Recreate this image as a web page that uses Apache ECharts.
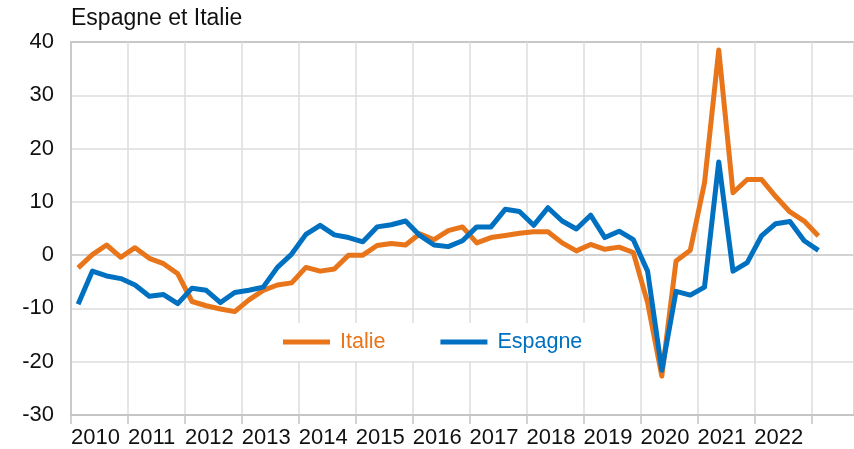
<!DOCTYPE html>
<html>
<head>
<meta charset="utf-8">
<script src="https://cdn.jsdelivr.net/npm/echarts@6/dist/echarts.min.js"></script>
<style>
  html, body { margin: 0; padding: 0; background: #fff; }
  #chart { width: 854px; height: 449px; }
</style>
</head>
<body>
<div id="chart"></div>
<script>
// Tick labels (years) for x axis
const yearLabels = ['2010','2011','2012','2013','2014','2015','2016','2017','2018','2019','2020','2021','2022'];
const quarterNames = ['T1','T2','T3','T4'];

// Quarterly categories 2010T1 .. 2023T3 (axis extends slightly beyond the data)
const categories = [];
for (const y of [...yearLabels, '2023']) {
  for (const q of quarterNames) categories.push(y + q);
}
categories.length = 55;

// Series values (2010T1 .. 2023T1)
const italie = [
  -2.4, 0.1, 1.9, -0.4, 1.4, -0.6, -1.6, -3.5,
  -8.7, -9.5, -10.1, -10.6, -8.4, -6.6, -5.6, -5.2,
  -2.3, -3.0, -2.6, 0.0, 0.0, 1.8, 2.2, 1.9,
  4.0, 2.9, 4.6, 5.3, 2.3, 3.3, 3.7, 4.1,
  4.4, 4.4, 2.3, 0.8, 2.0, 1.1, 1.5, 0.5,
  -8.9, -22.7, -1.1, 0.9, 13.6, 38.5, 11.7, 14.2,
  14.2, 11.0, 8.1, 6.4, 3.6
];
const espagne = [
  -9.2, -3.0, -3.9, -4.4, -5.6, -7.7, -7.4, -9.1,
  -6.2, -6.6, -8.9, -7.0, -6.6, -6.0, -2.3, 0.2,
  3.9, 5.6, 3.8, 3.3, 2.5, 5.3, 5.7, 6.4,
  3.7, 1.9, 1.6, 2.7, 5.3, 5.3, 8.6, 8.2,
  5.6, 8.9, 6.4, 4.9, 7.5, 3.3, 4.5, 2.9,
  -3.0, -21.6, -6.8, -7.5, -6.0, 17.5, -3.0, -1.4,
  3.6, 5.9, 6.3, 2.7, 0.9
];

const ORANGE = '#E8751A';
const BLUE = '#0070C0';
const FONT = 'Liberation Sans, Arial, sans-serif';

const chart = echarts.init(document.getElementById('chart'), null, { renderer: 'canvas' });
chart.setOption({
  animation: false,
  backgroundColor: '#ffffff',
  title: {
    text: 'Espagne et Italie',
    left: 71, top: 7, padding: 0,
    textStyle: { fontFamily: FONT, fontSize: 23, fontWeight: 'normal', color: '#111111' }
  },
  legend: {
    left: 275, top: 323,
    padding: [8, 56, 8, 8],
    backgroundColor: '#ffffff',
    itemWidth: 47, itemHeight: 5,
    itemGap: 55,
    icon: 'rect',
    textStyle: { fontFamily: FONT, fontSize: 21.5, padding: [0, 0, 0, 5] },
    data: [
      { name: 'Italie', textStyle: { color: ORANGE } },
      { name: 'Espagne', textStyle: { color: BLUE } }
    ]
  },
  grid: {
    left: 71, top: 42, width: 785, height: 374,
    show: true, borderColor: '#c4c4c4', borderWidth: 1.5,
    containLabel: false
  },
  xAxis: [
    {
      type: 'category',
      data: categories,
      boundaryGap: true,
      show: false
    },
    {
      type: 'value',
      min: 0, max: 55, interval: 4,
      position: 'bottom',
      axisLine: { show: true, lineStyle: { color: '#c4c4c4', width: 1.5 } },
      axisTick: { show: true, length: 9, lineStyle: { color: '#c4c4c4', width: 1.5 } },
      splitLine: { show: true, lineStyle: { color: '#dcdcdc', width: 1.5 } },
      axisLabel: {
        show: true,
        align: 'left',
        margin: 12,
        fontFamily: FONT, fontSize: 22, color: '#111111',
        showMaxLabel: false,
        formatter: function (v) {
          const k = v / 4;
          return Number.isInteger(k) && yearLabels[k] ? yearLabels[k] : '';
        }
      }
    }
  ],
  yAxis: {
    type: 'value',
    min: -30, max: 40, interval: 10,
    axisLine: { show: true, lineStyle: { color: '#c4c4c4', width: 1.5 } },
    axisTick: { show: false },
    axisLabel: { margin: 17, fontFamily: FONT, fontSize: 22, color: '#111111' },
    splitLine: {
      show: true,
      lineStyle: {
        width: 1.5,
        color: ['#c4c4c4', '#dcdcdc', '#dcdcdc', '#c4c4c4', '#dcdcdc', '#dcdcdc', '#dcdcdc', '#c4c4c4']
      }
    }
  },
  series: [
    {
      name: 'Italie', type: 'line', xAxisIndex: 0,
      data: italie, showSymbol: false, symbol: 'none',
      lineStyle: { color: ORANGE, width: 5, join: 'round' },
      itemStyle: { color: ORANGE },
      z: 3
    },
    {
      name: 'Espagne', type: 'line', xAxisIndex: 0,
      data: espagne, showSymbol: false, symbol: 'none',
      lineStyle: { color: BLUE, width: 5, join: 'round' },
      itemStyle: { color: BLUE },
      z: 4
    }
  ]
});
</script>
</body>
</html>
